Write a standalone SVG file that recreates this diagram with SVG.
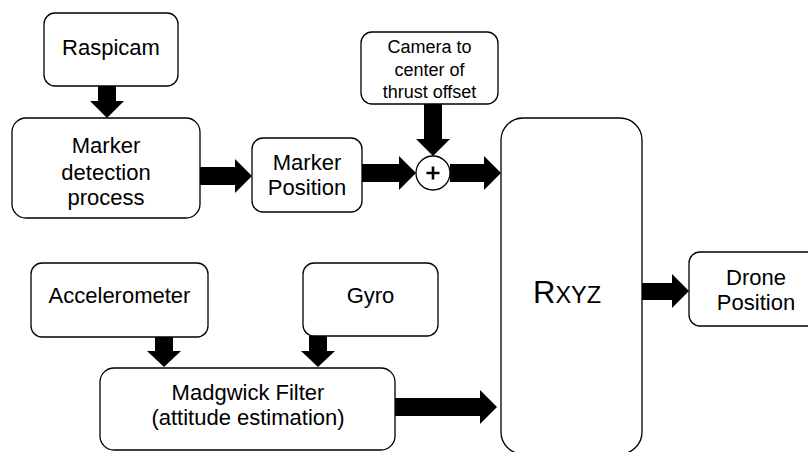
<svg xmlns="http://www.w3.org/2000/svg" width="808" height="452" viewBox="0 0 808 452">
<style>
.box{fill:#fff;stroke:#000;stroke-width:1.3}
.t{font-family:"Liberation Sans",Arial,sans-serif;font-size:22px;fill:#000;text-anchor:middle}
.s{font-size:18px}
.arr{fill:#000;stroke:none}
</style>
<rect width="808" height="452" fill="#fff"/>
<g id="raspicam"><rect class="box" x="44" y="13" width="134" height="73" rx="11"/><text class="t" x="111" y="55">Raspicam</text></g>
<g id="marker-detection"><rect class="box" x="12" y="118" width="188" height="100" rx="14"/><text class="t" x="106"><tspan x="106" y="153">Marker</tspan><tspan x="106" y="180">detection</tspan><tspan x="106" y="205">process</tspan></text></g>
<g id="marker-position"><rect class="box" x="252" y="138" width="110" height="74" rx="11"/><text class="t"><tspan x="307" y="170">Marker</tspan><tspan x="307" y="195">Position</tspan></text></g>
<g id="camera-offset"><rect class="box" x="361" y="32" width="137" height="72" rx="11"/><text class="t s"><tspan x="429.5" y="53">Camera to</tspan><tspan x="429.5" y="76">center of</tspan><tspan x="429.5" y="98">thrust offset</tspan></text></g>
<g id="sum"><circle class="box" cx="433" cy="173" r="17"/><path d="M426.5 173H439.5M433 166.5V179.5" stroke="#000" stroke-width="2.6" fill="none"/></g>
<g id="rxyz"><rect class="box" x="501" y="118" width="141" height="336" rx="22"/><text class="t" x="533" y="303" style="text-anchor:start"><tspan font-size="31">R</tspan><tspan font-size="23.5">XYZ</tspan></text></g>
<g id="drone-position"><rect class="box" x="689" y="252" width="134" height="74" rx="11"/><text class="t"><tspan x="756" y="285">Drone</tspan><tspan x="756" y="310">Position</tspan></text></g>
<g id="accelerometer"><rect class="box" x="31" y="263" width="177" height="74" rx="11"/><text class="t" x="119.5" y="303">Accelerometer</text></g>
<g id="gyro"><rect class="box" x="303" y="263" width="135" height="73" rx="11"/><text class="t" x="370.5" y="303">Gyro</text></g>
<g id="madgwick"><rect class="box" x="100" y="368" width="295" height="82" rx="14"/><text class="t"><tspan x="248" y="400">Madgwick Filter</tspan><tspan x="248" y="425">(attitude estimation)</tspan></text></g>
<g id="connectors" class="arr">
<polygon points="98,86 116,86 116,101 124,101 107,118 90,101 98,101"/>
<polygon points="200,167 235,167 235,159 252,176 235,193 235,185 200,185"/>
<polygon points="362,164 399,164 399,156 416,173 399,190 399,182 362,182"/>
<polygon points="424,104 442,104 442,139 450,139 433,156 416,139 424,139"/>
<polygon points="450,164 484,164 484,156 501,173 484,190 484,182 450,182"/>
<polygon points="155,337 173,337 173,351 181,351 164,367 147,351 155,351"/>
<polygon points="309,336 327,336 327,351 335,351 318,367 301,351 309,351"/>
<polygon points="395,398 480,398 480,390 497,407 480,424 480,416 395,416"/>
<polygon points="642,283 672,283 672,274 689,291 672,308 672,300 642,300"/>
</g>
</svg>
